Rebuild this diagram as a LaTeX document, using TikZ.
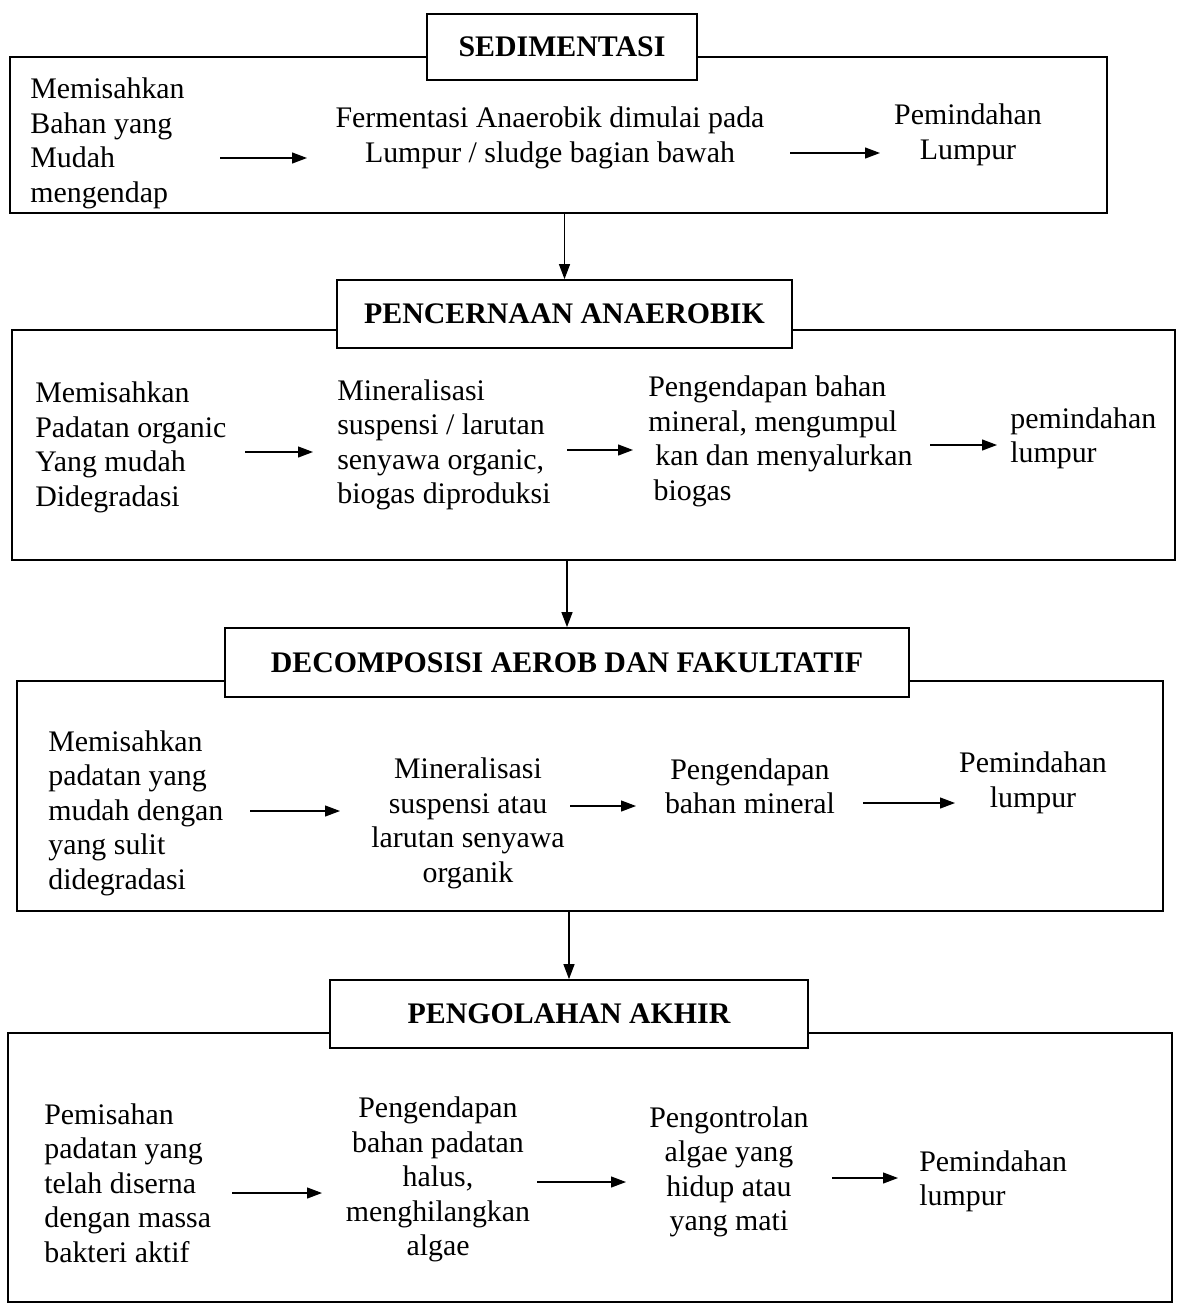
\documentclass[tikz,border=0pt]{standalone}
\usepackage{fontspec}
\setmainfont{Liberation Serif}
\usetikzlibrary{arrows.meta,fit}

\begin{document}
\begin{tikzpicture}[x=0.02cm,y=-0.02cm,
	box/.style={draw,line width=0.8pt,inner sep=0pt},
	judul/.style={draw,line width=1pt,fill=white,inner sep=0pt,font=\fontsize{17}{20}\selectfont\bfseries},
	teks/.style={inner sep=0pt,font=\fontsize{17}{19.6}\selectfont,align=left},
	teksc/.style={teks,align=center},
	panah/.style={-{Triangle[length=0.3cm,width=0.22cm]},line width=0.7pt}]
		\useasboundingbox (0,0) rectangle (1177,1305);
		
		\node[box,fit={(10,57) (1107,213)}] (f1) {};
		\node[box,fit={(12,330) (1175,560)}] (f2) {};
		\node[box,fit={(17,681) (1163,911)}] (f3) {};
		\node[box,fit={(8,1033) (1172,1302)}] (f4) {};
		
		\node[judul,minimum width=5.4cm,minimum height=1.32cm] (t1) at (562,47) {SEDIMENTASI};
		\node[judul,minimum width=9.1cm,minimum height=1.36cm] (t2) at (564.5,314) {PENCERNAAN ANAEROBIK};
		\node[judul,minimum width=13.68cm,minimum height=1.38cm] (t3) at (567,662.5) {DECOMPOSISI AEROB DAN FAKULTATIF};
		\node[judul,minimum width=9.56cm,minimum height=1.36cm] (t4) at (569,1014) {PENGOLAHAN AKHIR};
		
		\draw[panah] (f1.south -| t2.north) -- (t2.north);
		\draw[panah] (f2.south -| t3.north) -- (t3.north);
		\draw[panah] (f3.south -| t4.north) -- (t4.north);
		
		\node[teks,anchor=west] (s1a) at (30,143.5) {Memisahkan\\Bahan yang\\Mudah\\mengendap};
		\node[teksc] (s1b) at (550,138) {Fermentasi Anaerobik dimulai pada\\Lumpur / sludge bagian bawah};
		\node[teksc] (s1c) at (968,135) {Pemindahan\\Lumpur};
		\coordinate (a1) at (220,158);
		\coordinate (b1) at (307,158);
		\coordinate (a2) at (790,153);
		\coordinate (b2) at (880,153);
		\draw[panah] (a1) -- (b1);
		\draw[panah] (a2) -- (b2);
		
		\node[teks,anchor=west] (s2a) at (35,447.5) {Memisahkan\\Padatan organic\\Yang mudah\\Didegradasi};
		\node[teks,anchor=west] (s2b) at (337,445) {Mineralisasi\\suspensi / larutan\\senyawa organic,\\biogas diproduksi};
		\node[teks,anchor=west] (s2c) at (648,441.5) {Pengendapan bahan\\mineral, mengumpul\\\hspace*{4pt}kan dan menyalurkan\\\hspace*{3pt}biogas};
		\node[teks,anchor=west] (s2d) at (1010,438.5) {pemindahan\\lumpur};
		\coordinate (a3) at (245,452);
		\coordinate (b3) at (313,452);
		\coordinate (a4) at (567,450);
		\coordinate (b4) at (633,450);
		\coordinate (a5) at (930,445);
		\coordinate (b5) at (997,445);
		\draw[panah] (a3) -- (b3);
		\draw[panah] (a4) -- (b4);
		\draw[panah] (a5) -- (b5);
		
		\node[teks,anchor=west] (s3a) at (48,813) {Memisahkan\\padatan yang\\mudah dengan\\yang sulit\\didegradasi};
		\node[teksc] (s3b) at (468,823.5) {Mineralisasi\\suspensi atau\\larutan senyawa\\organik};
		\node[teksc] (s3c) at (750,786.5) {Pengendapan\\bahan mineral};
		\node[teksc] (s3d) at (1033,783) {Pemindahan\\lumpur};
		\coordinate (a6) at (250,811);
		\coordinate (b6) at (340,811);
		\coordinate (a7) at (570,806);
		\coordinate (b7) at (636,806);
		\coordinate (a8) at (863,803);
		\coordinate (b8) at (955,803);
		\draw[panah] (a6) -- (b6);
		\draw[panah] (a7) -- (b7);
		\draw[panah] (a8) -- (b8);
		
		\node[teks,anchor=west] (s4a) at (44,1183) {Pemisahan\\padatan yang\\telah diserna\\dengan massa\\bakteri aktif};
		\node[teksc] (s4b) at (438,1179.5) {Pengendapan\\bahan padatan\\halus,\\menghilangkan\\algae};
		\node[teksc] (s4c) at (729,1172) {Pengontrolan\\algae yang\\hidup atau\\yang mati};
		\node[teks,anchor=west] (s4d) at (919,1181.5) {Pemindahan\\lumpur};
		\coordinate (a9) at (232,1193);
		\coordinate (b9) at (322,1193);
		\coordinate (a10) at (537,1182);
		\coordinate (b10) at (626,1182);
		\coordinate (a11) at (832,1178);
		\coordinate (b11) at (898,1178);
		\draw[panah] (a9) -- (b9);
		\draw[panah] (a10) -- (b10);
		\draw[panah] (a11) -- (b11);
\end{tikzpicture}
\end{document}
